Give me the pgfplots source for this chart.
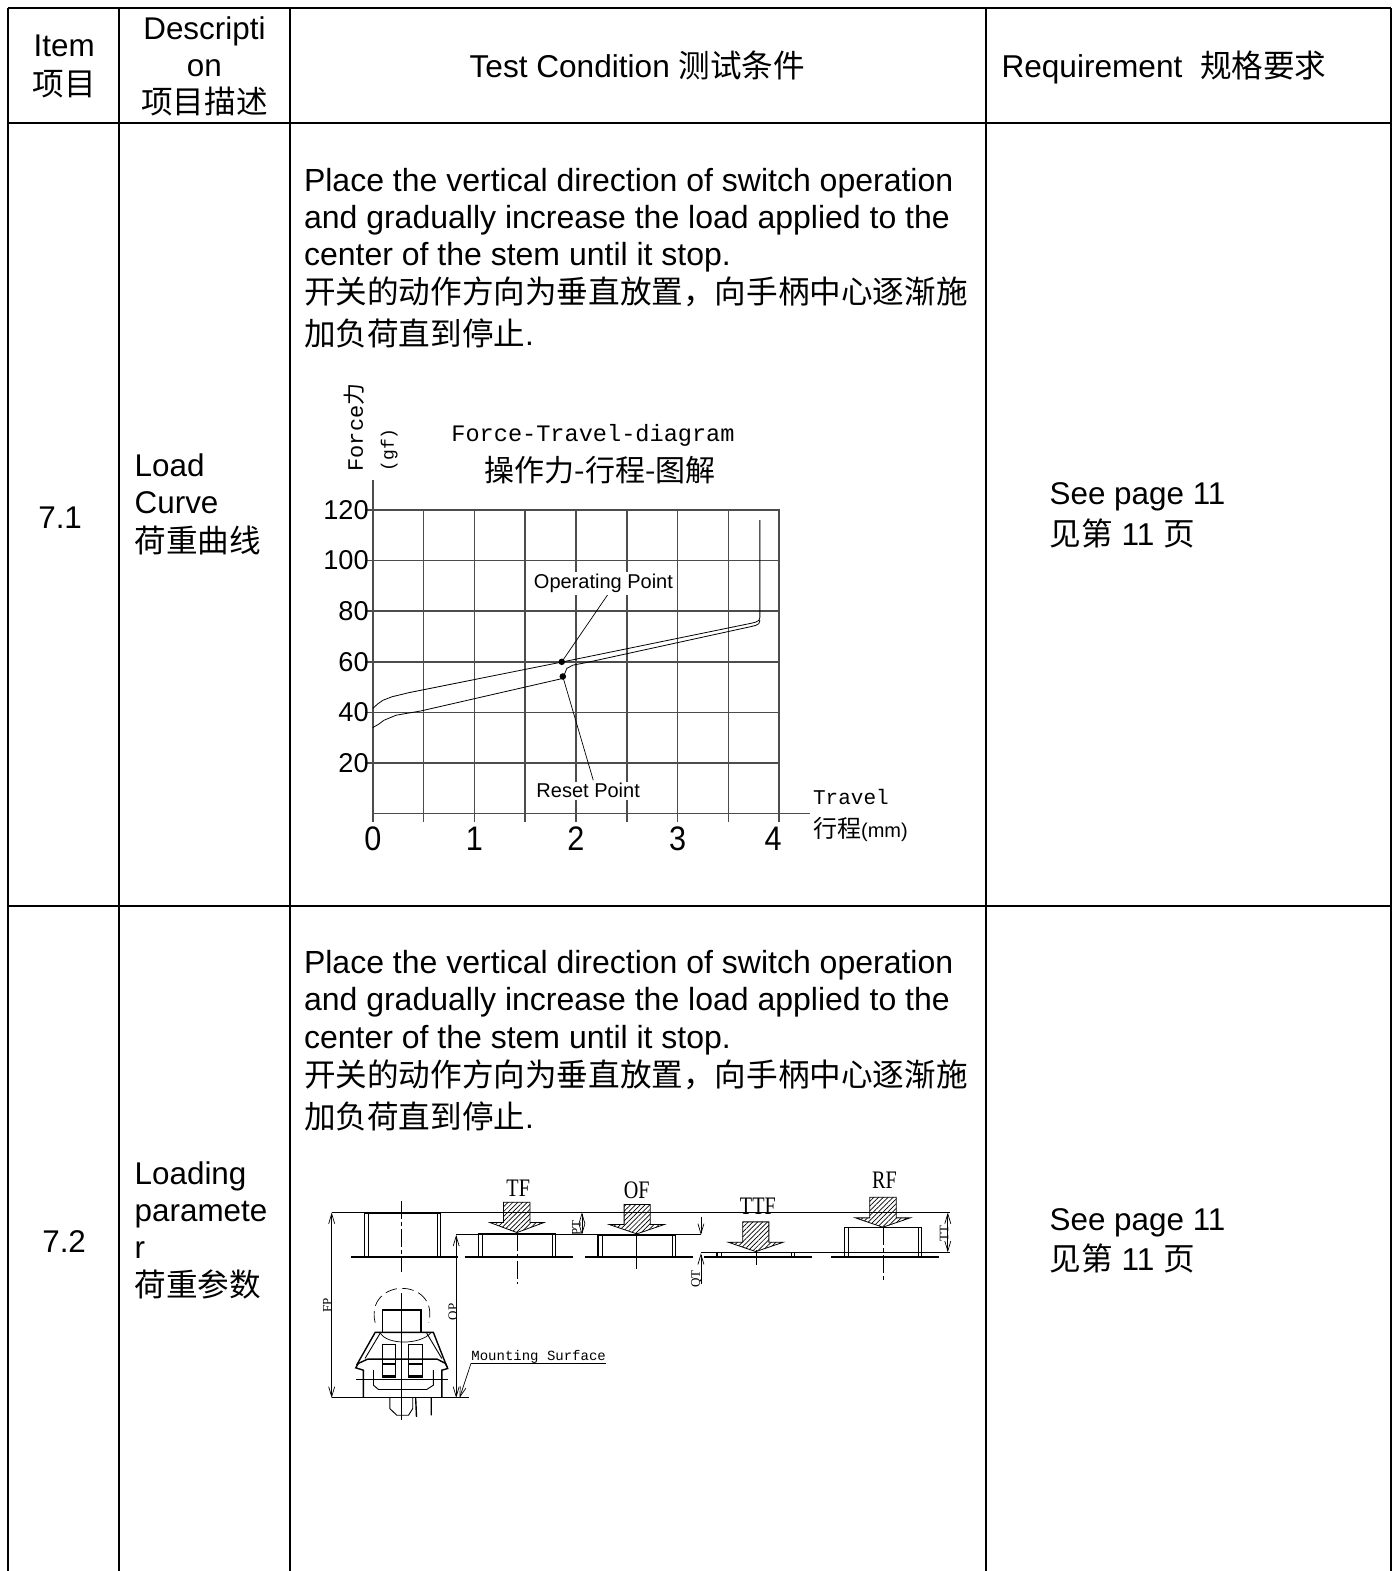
\documentclass[border=0pt]{standalone}
\usepackage{fontspec}
\usepackage{graphicx}
\usepackage{pgfplots}
\pgfplotsset{compat=1.18}
\usetikzlibrary{patterns.meta,arrows.meta}
\setmainfont{Liberation Sans}
\setmonofont{Liberation Mono}
\newfontfamily\cjk{Noto Sans CJK SC}
\newfontfamily\tms{Liberation Serif}
\newcommand{\fs}[1]{\fontsize{#1}{#1}\selectfont}
\newcommand{\tl}[4]{\node[anchor=base west,inner sep=0pt] at (#1,#2) {\fs{#3}#4};}
\newcommand{\tc}[4]{\node[anchor=base,inner sep=0pt] at (#1,#2) {\fs{#3}#4};}
\newcommand{\arrowbox}[7]{% shaft left, shaft right, shaft top, head y, head left, head right, tip y
  \draw[line width=.4pt,pattern={Lines[angle=45,distance=1.7pt,line width=.35pt]}]
    (#1,#3)--(#2,#3)--(#2,#4)--(#6,#4)--({(#5+#6)/2},#7)--(#5,#4)--(#1,#4)--cycle;}
\begin{document}
\begin{tikzpicture}
\useasboundingbox (0,0) rectangle (699.5pt,-785.5pt);
\begin{scope}[x=0.50107pt,y=-0.50096pt]
% table rules
\draw[line width=1pt] (8,8)--(1388,8);
\draw[line width=1pt] (8,123)--(1388,123);
\draw[line width=1pt] (8,904)--(1388,904);
\foreach \xx in {8,118.5,289.5,984,1388}
  \draw[line width=1pt] (\xx,8)--(\xx,1568);
% header
\tc{64}{56}{15.7}{Item}
\tc{64}{95}{15.8}{\cjk 项目}
\tc{204}{39}{15.7}{Descripti}
\tc{204}{76}{15.7}{on}
\tc{204}{113}{15.8}{\cjk 项目描述}
\tc{636}{77}{15.8}{Test Condition {\cjk 测试条件}}
\tl{999}{77}{15.8}{Requirement\ \ {\cjk 规格要求}}
% row 7.1
\tc{60}{527}{15.7}{7.1}
\tl{134}{476}{15.7}{Load}
\tl{134}{513}{15.7}{Curve}
\tl{134}{551}{15.8}{\cjk 荷重曲线}
\tl{303}{191}{16}{Place the vertical direction of switch operation}
\tl{303}{228}{16}{and gradually increase the load applied to the}
\tl{303}{265}{16}{center of the stem until it stop.}
\tl{303}{303}{15.8}{\cjk 开关的动作方向为垂直放置，向手柄中心逐渐施}
\tl{303}{345}{15.8}{{\cjk 加负荷直到停止}.}
\tl{1047}{504}{15.7}{See page 11}
\tl{1047}{544}{15.8}{{\cjk 见第} 11 {\cjk 页}}
% row 7.2
\tc{64}{1250}{15.7}{7.2}
\tl{134}{1182}{15.7}{Loading}
\tl{134}{1219}{15.7}{paramete}
\tl{134}{1256}{15.7}{r}
\tl{134}{1294}{15.8}{\cjk 荷重参数}
\tl{303}{972}{16}{Place the vertical direction of switch operation}
\tl{303}{1009}{16}{and gradually increase the load applied to the}
\tl{303}{1046}{16}{center of the stem until it stop.}
\tl{303}{1084}{15.8}{\cjk 开关的动作方向为垂直放置，向手柄中心逐渐施}
\tl{303}{1126}{15.8}{{\cjk 加负荷直到停止}.}
\tl{1047}{1228}{15.7}{See page 11}
\tl{1047}{1268}{15.8}{{\cjk 见第} 11 {\cjk 页}}
% chart annotations outside the axes
\node[rotate=90,anchor=base west,inner sep=0pt] at (362,471) {\fs{11}\ttfamily Force{\cjk 力}};
\node[rotate=90,anchor=base west,inner sep=0pt] at (393,471) {\fs{9}\ttfamily (gf)};
\tl{450}{441}{11.8}{\ttfamily Force-Travel-diagram}
\tc{599}{481}{15}{\cjk 操作力-行程-图解}
\tl{811}{803}{10.5}{\ttfamily Travel}
\tl{811}{836}{12}{{\cjk 行程}{\fs{10}(mm)}}
% switch schematic, in its own crop coordinates
\begin{scope}[shift={(299.4,1147.5)},x=0.2110pt,y=-0.1670pt,line width=.45pt]
\draw (75,188)--(1540,188);
\draw (370,255)--(950,255);
\draw (950,307)--(1540,307);
\draw (75,743)--(400,743);
% bases
\foreach \a/\b in {120/375,390/647,675/932,957/1213,1258/1515}
  \draw[line width=.9pt] (\a,322)--(\b,322);
% caps
\draw (152,322)--(152,190)--(333,190)--(333,322) (162,322)--(162,190) (325,322)--(325,190);
\draw[line width=.6pt] (422,322)--(422,250)--(605,250)--(605,322);
\draw (432,322)--(432,250) (597,322)--(597,250);
\draw[line width=.6pt] (706,322)--(706,256)--(890,256)--(890,322);
\draw (716,322)--(716,256) (882,322)--(882,256);
\draw[line width=.6pt] (988,322)--(988,308)--(1172,308)--(1172,322);
\draw (998,322)--(998,308) (1164,322)--(1164,308);
\draw[line width=.6pt] (1290,322)--(1290,234)--(1473,234)--(1473,322);
\draw (1300,322)--(1300,234) (1465,322)--(1465,234);
% centre lines
\draw[dash pattern=on 9pt off 1.5pt on 2pt off 1.5pt,line width=.3pt] (241,155)--(241,365);
\draw[dash pattern=on 9pt off 1.5pt on 2pt off 1.5pt,line width=.3pt] (514,250)--(514,402);
\draw[line width=.3pt] (798,250)--(798,357);
\draw[line width=.3pt] (1080,300)--(1080,345);
\draw[dash pattern=on 9pt off 1.5pt on 2pt off 1.5pt,line width=.3pt] (1381,232)--(1381,398);
% load arrows
\arrowbox{482}{545}{157}{218}{450}{578}{248}
\arrowbox{768}{830}{164}{224}{733}{863}{252}
\arrowbox{1049}{1111}{216}{277}{1015}{1145}{305}
\arrowbox{1350}{1413}{142}{204}{1316}{1446}{232}
% dimensions
\tikzset{dm/.style={line width=.35pt,{Straight Barb[length=5pt,width=3pt]}-{Straight Barb[length=5pt,width=3pt]}},
         dn/.style={line width=.35pt,-{Straight Barb[length=5pt,width=3pt]}}}
\draw[dm] (75,188)--(75,743);
\draw[dm] (370,255)--(370,743);
\draw[dm] (668,188)--(668,255);
\draw[dn] (950,200)--(950,255);
\draw[dn] (950,403)--(950,310);
\draw[dm] (1535,188)--(1535,307);
\draw[dn] (405,640)--(378,743);
\draw (405,640)--(725,640);
% small labels
\foreach \lx/\ly/\lt in {65/465/FP,362/485/OP,655/235/PT,940/388/QT,1526/250/TT}
  \node[rotate=90,inner sep=0pt] at (\lx,\ly) {\fs{6.5}\tms\lt};
\tc{517}{140}{12.6}{\tms\scalebox{.8}[1]{TF}}
\tc{798}{145}{12.6}{\tms\scalebox{.8}[1]{OF}}
\tc{1085}{195}{12.6}{\tms\scalebox{.8}[1]{TTF}}
\tc{1385}{115}{12.6}{\tms\scalebox{.8}[1]{RF}}
\tl{405}{630}{7}{\ttfamily Mounting Surface}
% switch body
\draw[line width=.8pt] (195,547)--(195,480)--(287,480)--(287,547);
\draw[line width=.3pt] (241,430)--(241,810);
\draw[dash pattern=on 6pt off 2.5pt,line width=.35pt] (178,518) .. controls (165,450) and (205,415) .. (241,415) .. controls (280,415) and (318,450) .. (305,518);
\draw[line width=.35pt] (190,548) .. controls (205,585) and (285,585) .. (310,548);
\draw[line width=.7pt] (134,645)--(178,547)--(316,547)--(348,650);
\draw (154,625)--(190,549) (300,549)--(336,625);
\draw[line width=.7pt] (150,740)--(150,660)--(132,653)--(138,640)--(160,627)--(325,627)--(345,640)--(350,655)--(336,660)--(336,740);
\draw (174,660)--(174,705)--(186,718)--(300,718)--(316,705)--(316,660);
\draw (195,582)--(225,582)--(225,682)--(195,682)--cycle (257,582)--(289,582)--(289,682)--(257,682)--cycle;
\draw[line width=.8pt] (195,642)--(225,642) (195,678)--(225,678) (257,642)--(289,642) (257,678)--(289,678);
\draw (132,688)--(350,688);
\draw (213,743)--(213,775)--(229,795)--(257,795)--(267,775)--(267,743);
\draw[line width=.7pt] (274,743)--(276,800) (311,743)--(311,795);
\end{scope}
\end{scope}
% load curve
\begin{axis}[
    at={(186.4pt,-406.8pt)},
    anchor=south west,
    scale only axis,
    width=203.2pt,
    height=151.8pt,
    xmin=0, xmax=4,
    ymin=0, ymax=120,
    clip=false,
    xtick={0,0.5,...,4},
    xticklabels={\scalebox{.9}[1]{0},,\scalebox{.9}[1]{1},,\scalebox{.9}[1]{2},,\scalebox{.9}[1]{3},,\hbox{\scalebox{.9}[1]{4}\kern6pt}},
    ytick={20,40,...,120},
    xtick pos=bottom,
    ytick pos=left,
    grid=major,
    grid style={draw=black!70,line width=.75pt},
    axis line style={draw=black!70,line width=.75pt},
    tick style={draw=black!70,line width=.75pt},
    tick align=outside,
    major tick length=4pt,
    x tick label style={font=\fs{17}, yshift=1pt},
    y tick label style={font=\fs{13.6}, xshift=5.5pt},
    /pgf/number format/assume math mode=true,
]
\addplot[black!70,line width=.75pt,forget plot] coordinates {(0,120)(0,132)};
\addplot[black!70,line width=.75pt,forget plot] coordinates {(4,0)(4.3,0)};
\addplot[black,line width=.4pt] coordinates {
  (0,41.6)(0.05,43.4)(0.1,44.8)(0.19,46.2)(0.355,47.8)(1.86,59.9)(3.72,75.2)(3.77,75.7)(3.80,76.4)(3.81,77.5)(3.81,116)};
\addplot[black,line width=.4pt] coordinates {
  (0,34)(0.06,35.4)(0.11,36.9)(0.23,38.9)(0.476,40.6)(1.867,53.4)(1.89,55.4)(1.91,57.4)(1.97,58.7)(2.09,59.6)(3.72,73.9)(3.77,74.4)(3.80,75.1)(3.81,76.5)};
\addplot[black,line width=.35pt] coordinates {(1.86,60)(2.31,86.4)};
\addplot[black,line width=.35pt] coordinates {(1.87,54.2)(2.17,13.2)};
\addplot[only marks,mark=*,mark size=1.4pt,black] coordinates {(1.86,60)(1.87,54.2)};
\node[fill=white,inner sep=1pt,font=\fs{10}] at (axis cs:2.27,91) {Operating Point};
\node[fill=white,inner sep=1pt,font=\fs{10}] at (axis cs:2.12,9) {Reset Point};
\end{axis}
\end{tikzpicture}
\end{document}
